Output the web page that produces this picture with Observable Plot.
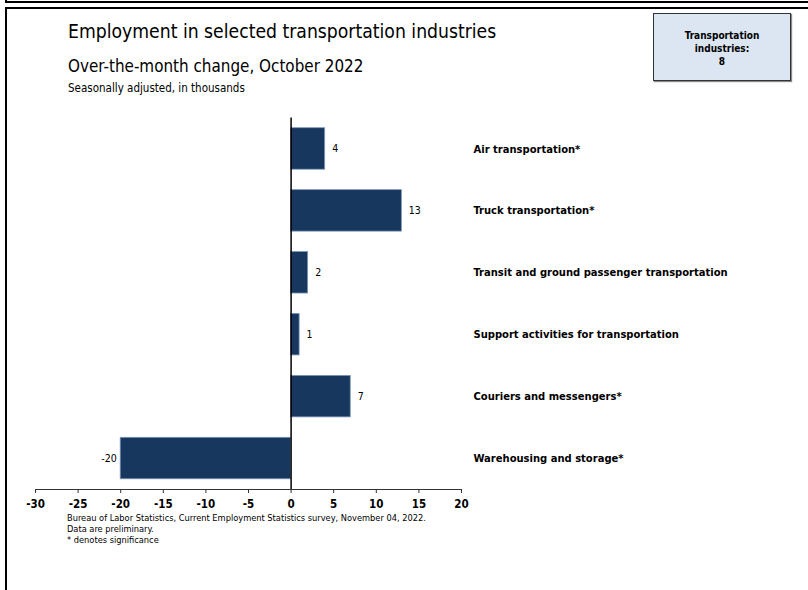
<!DOCTYPE html>
<html>
<head>
<meta charset="utf-8">
<script src="https://cdn.jsdelivr.net/npm/d3@7"></script>
<script src="https://cdn.jsdelivr.net/npm/@observablehq/plot@0.6"></script>
<style>
  html, body { margin: 0; padding: 0; background: #fff; }
  #wrap { position: relative; width: 808px; height: 590px; overflow: hidden; font-family: "DejaVu Sans Condensed", "DejaVu Sans", sans-serif; color: #000; }
  .line { position: absolute; background: #000; }
  #title { position: absolute; left: 68px; top: 20px; font-size: 19.2px; line-height: 24px; white-space: nowrap; }
  #subtitle { position: absolute; left: 68px; top: 56px; font-size: 16.9px; line-height: 20px; white-space: nowrap; }
  #note { position: absolute; left: 68px; top: 81px; font-size: 11.5px; line-height: 14px; white-space: nowrap; }
  #box { position: absolute; left: 653px; top: 13px; width: 138px; height: 68px; background: #dce6f2; border: 1px solid #333; box-shadow: 1px 1px 1px #888; text-align: center; font-weight: bold; font-size: 10px; line-height: 13px; box-sizing: border-box; padding-top: 15px; }
  #chart { position: absolute; left: 0; top: 100px; }
  #foot { position: absolute; left: 67px; top: 512px; font-size: 9.2px; line-height: 11px; white-space: nowrap; }
</style>
</head>
<body>
<div id="wrap">
  <div class="line" style="left:5px; top:-10px; width:2px; height:13px;"></div>
  <div class="line" style="left:5px; top:1px; width:810px; height:2px;"></div>
  <div class="line" style="left:5px; top:7px; width:810px; height:2px;"></div>
  <div class="line" style="left:5px; top:7px; width:2px; height:600px;"></div>
  <div id="title"></div>
  <div id="subtitle"></div>
  <div id="note"></div>
  <div id="box"></div>
  <div id="chart"></div>
  <div id="foot"></div>
</div>
<script>
const industries = [
  "Air transportation*",
  "Truck transportation*",
  "Transit and ground passenger transportation",
  "Support activities for transportation",
  "Couriers and messengers*",
  "Warehousing and storage*"
];
const changes = [4, 13, 2, 1, 7, -20];
const xTicks = [-30, -25, -20, -15, -10, -5, 0, 5, 10, 15, 20];
const titleText = "Employment in selected transportation industries";
const subtitleText = "Over-the-month change, October 2022";
const noteText = "Seasonally adjusted, in thousands";
const boxLines = ["Transportation", "industries:", "8"];
const footLines = [
  "Bureau of Labor Statistics, Current Employment Statistics survey, November 04, 2022.",
  "Data are preliminary.",
  "* denotes significance"
];

document.getElementById("title").textContent = titleText;
document.getElementById("subtitle").textContent = subtitleText;
document.getElementById("note").textContent = noteText;
document.getElementById("box").innerHTML = boxLines.join("<br>");
document.getElementById("foot").innerHTML = footLines.join("<br>");

const data = industries.map((name, i) => ({name, value: changes[i]}));

const chart = Plot.plot({
  width: 808,
  height: 410,
  marginTop: 17.5,
  marginBottom: 21,
  marginLeft: 35,
  marginRight: 347,
  style: {fontFamily: "'DejaVu Sans Condensed', 'DejaVu Sans', sans-serif", background: "transparent", color: "#000"},
  x: {domain: [-30, 20]},
  y: {domain: industries, paddingInner: 0.33, paddingOuter: 0.165, round: false},
  marks: [
    Plot.barX(data, {x: "value", y: "name", fill: "#17375e", stroke: "#7f97b8", strokeWidth: 0.8}),
    Plot.ruleX([0], {stroke: "#000", strokeWidth: 1.5}),
    Plot.text(data.filter(d => d.value >= 0), {x: "value", y: "name", text: d => String(d.value), textAnchor: "start", dx: 7, fontSize: 10.5, fill: "#000"}),
    Plot.text(data.filter(d => d.value < 0), {x: "value", y: "name", text: d => String(d.value), textAnchor: "end", dx: -4, fontSize: 10.5, fill: "#000"}),
    Plot.frame({anchor: "bottom", stroke: "#333"}),
    Plot.axisX({ticks: xTicks, tickSize: 4, tickPadding: 6, fontSize: 11.5, fontWeight: "bold", stroke: "#333", label: null, tickFormat: d => String(d)}),
    Plot.axisY({anchor: "right", tickSize: 0, tickPadding: 12, fontSize: 11.1, fontWeight: "bold", label: null, textAnchor: "start"})
  ]
});
document.getElementById("chart").appendChild(chart);
</script>
</body>
</html>
